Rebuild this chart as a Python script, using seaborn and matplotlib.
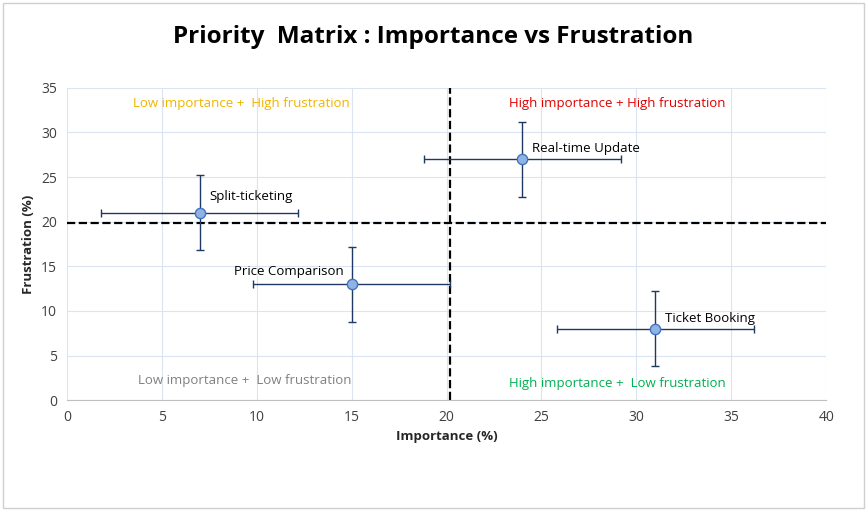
import matplotlib
matplotlib.use("Agg")
import matplotlib.pyplot as plt
import seaborn as sns
import pandas as pd

# data
features = ["Split-ticketing", "Real-time Update", "Price Comparison", "Ticket Booking"]
importance = [7, 24, 15, 31]
frustration = [21, 27, 13, 8]
x_err = [5.2, 5.2, 5.2, 5.2]
y_err = [4.2, 4.2, 4.2, 4.2]
x_cut = 20.2
y_cut = 19.8

df = pd.DataFrame({"feature": features, "imp": importance, "fru": frustration})

sns.set_style("whitegrid")
plt.rcParams["font.family"] = ["Open Sans", "DejaVu Sans"]

fig = plt.figure(figsize=(8.67, 5.11), dpi=100)
fig.patches.append(plt.Rectangle((0.004, 0.006), 0.992, 0.988, transform=fig.transFigure,
                                 fill=False, edgecolor="#d0d0d0", linewidth=1))
ax = fig.add_axes([0.077, 0.217, 0.876, 0.611])

ax.errorbar(df["imp"], df["fru"], xerr=x_err, yerr=y_err, fmt="none",
            ecolor="#1f3864", elinewidth=1, capsize=3, zorder=3)
sns.scatterplot(data=df, x="imp", y="fru", ax=ax, s=55, color="#8db4e2",
                edgecolor="#4472c4", linewidth=1, zorder=4)

ax.axvline(x_cut, color="black", linestyle="--", linewidth=1.6, zorder=2)
ax.axhline(y_cut, color="black", linestyle="--", linewidth=1.6, zorder=2)

label_pos = {"Split-ticketing": (7.5, 22.8, "left"), "Real-time Update": (24.5, 28.2, "left"),
             "Price Comparison": (14.6, 14.4, "right"), "Ticket Booking": (31.5, 9.2, "left")}
for f in features:
    lx, ly, ha = label_pos[f]
    ax.text(lx, ly, f, ha=ha, va="center", fontsize=9.5, color="black")

ax.text(9.2, 33.3, "Low importance +  High frustration", color="#f0b400", ha="center", va="center", fontsize=9.5)
ax.text(29, 33.3, "High importance + High frustration", color="#e00000", ha="center", va="center", fontsize=9.5)
ax.text(9.4, 2.2, "Low importance +  Low frustration", color="#808080", ha="center", va="center", fontsize=9.5)
ax.text(29, 1.9, "High importance +  Low frustration", color="#00b050", ha="center", va="center", fontsize=9.5)

ax.set_xlim(0, 40)
ax.set_ylim(0, 35)
ax.set_xticks(range(0, 41, 5))
ax.set_yticks(range(0, 36, 5))
ax.tick_params(labelsize=10, colors="#404040")
ax.grid(color="#dbe5f1", linewidth=0.8)
for s in ax.spines.values():
    s.set_visible(False)
ax.spines["bottom"].set_visible(True)
ax.spines["bottom"].set_color("#bfbfbf")
ax.set_xlabel("Importance (%)", fontsize=9.5, fontweight="bold")
ax.set_ylabel("Frustration (%)", fontsize=9.5, fontweight="bold")

fig.text(0.5, 0.927, "Priority  Matrix : Importance vs Frustration", ha="center", va="center",
         fontsize=17.5, fontweight="bold", color="black")

fig.savefig("out.png", dpi=100)
